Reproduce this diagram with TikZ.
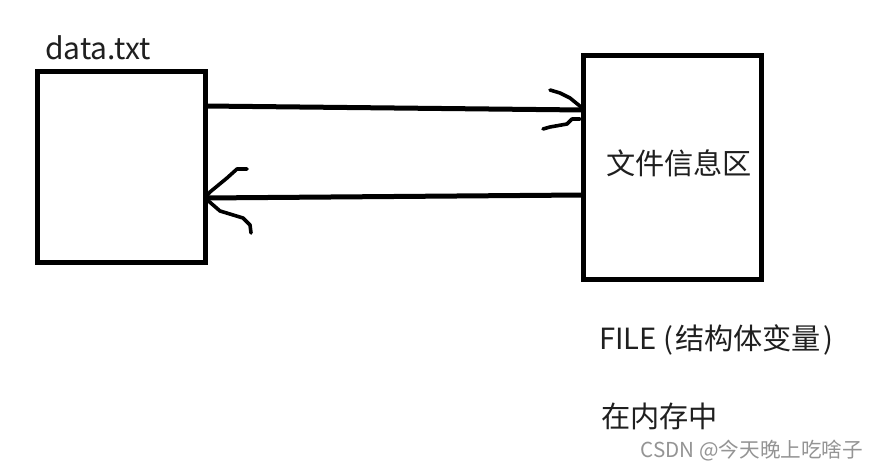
\documentclass[tikz,border=0pt]{standalone}
\usepackage{fontspec}
\setmainfont{Noto Sans CJK SC}
\tikzset{
  boxnode/.style={draw=black,line width=5pt,fill=none,inner sep=0pt,outer sep=0pt,minimum width=#1},
  mainline/.style={line width=5pt,draw=black},
  barb/.style={line width=3.6pt,draw=black,line join=round,line cap=round},
  lab/.style={inner sep=0pt,outer sep=0pt,anchor=base west,text=black!88},
  wmark/.style={inner sep=0pt,outer sep=0pt,anchor=base east,text=black!42}
}
\begin{document}
\begin{tikzpicture}[x=1pt,y=-1pt]
\useasboundingbox (0,0) rectangle (878,470);
\fill[white] (0,0) rectangle (878,470);
\node[boxnode=168pt,minimum height=191pt] (a) at (121,167.5) {};
\node[boxnode=178pt,minimum height=224pt] (b) at (672,168) {};
\node[lab,font=\fontsize{30}{30}\selectfont] (t1) at (45,60) {data.txt};
\node[lab,font=\fontsize{29.2}{29}\selectfont] (t2) at (606,175) {文件信息区};
\node[lab,font=\fontsize{29.2}{29}\selectfont] (t3) at (599,349) {FILE (\hspace{2pt}结构体变量\hspace{2pt})};
\node[lab,font=\fontsize{29.2}{29}\selectfont] (t4) at (601,427) {在内存中};
\node[wmark,font=\fontsize{20.6}{20}\selectfont] (t5) at (863,457) {CSDN @今天晚上吃啥子};
\coordinate (p1) at (a.east |- 0,106);
\coordinate (q1) at (b.west |- 0,110);
\coordinate (p2) at (b.west |- 0,195);
\coordinate (q2) at (a.east |- 0,198);
\draw[mainline] (p1) -- (q1);
\draw[mainline] (p2) -- (q2);
\draw[barb] (q1) ++(-2,-3) -- (570,98) -- (560,93) -- (550,90);
\draw[barb] (580,119) -- (572,119) -- (567,124) -- (550,127) -- (543,129);
\draw[barb] (q2) -- (210,192) -- (227,178) -- (237,169) -- (247,169);
\draw[barb] (q2) -- (220,211) -- (243,218) -- (250,225) -- (251,233);
\end{tikzpicture}
\end{document}
